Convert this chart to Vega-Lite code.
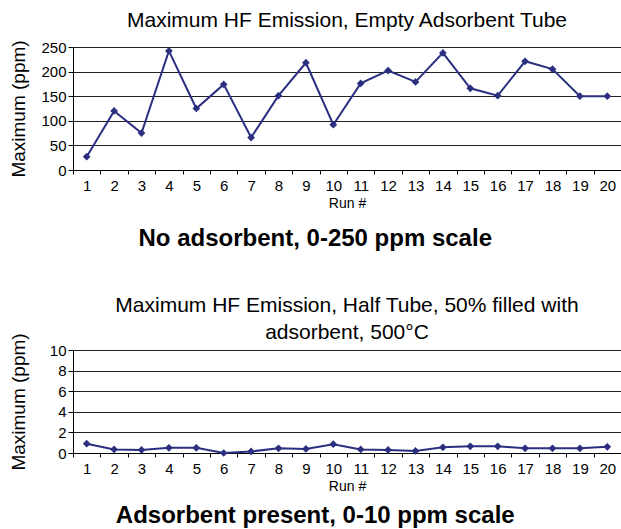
{
  "$schema": "https://vega.github.io/schema/vega-lite/v6.json",
  "padding": {"left": 9, "top": 9, "right": 0, "bottom": 0},
  "background": "white",
  "config": {
    "font": "Liberation Sans",
    "view": {"stroke": null},
    "title": {"font": "Liberation Sans", "fontWeight": "normal", "fontSize": 21, "color": "#000"},
    "axis": {
      "labelFont": "Liberation Sans", "titleFont": "Liberation Sans",
      "labelColor": "#000", "titleColor": "#000",
      "domainColor": "#000", "tickColor": "#000", "gridColor": "#222",
      "titleFontWeight": "normal"
    },
    "concat": {"spacing": 43}
  },
  "datasets": {
    "empty": [
      {"run": 1, "ppm": 27}, {"run": 2, "ppm": 120}, {"run": 3, "ppm": 75}, {"run": 4, "ppm": 242},
      {"run": 5, "ppm": 125}, {"run": 6, "ppm": 174}, {"run": 7, "ppm": 66}, {"run": 8, "ppm": 151},
      {"run": 9, "ppm": 218}, {"run": 10, "ppm": 92}, {"run": 11, "ppm": 176}, {"run": 12, "ppm": 202},
      {"run": 13, "ppm": 179}, {"run": 14, "ppm": 238}, {"run": 15, "ppm": 166}, {"run": 16, "ppm": 151},
      {"run": 17, "ppm": 221}, {"run": 18, "ppm": 205}, {"run": 19, "ppm": 150}, {"run": 20, "ppm": 150}
    ],
    "half": [
      {"run": 1, "ppm": 0.9}, {"run": 2, "ppm": 0.35}, {"run": 3, "ppm": 0.3}, {"run": 4, "ppm": 0.5},
      {"run": 5, "ppm": 0.5}, {"run": 6, "ppm": 0.0}, {"run": 7, "ppm": 0.15}, {"run": 8, "ppm": 0.45},
      {"run": 9, "ppm": 0.4}, {"run": 10, "ppm": 0.85}, {"run": 11, "ppm": 0.35}, {"run": 12, "ppm": 0.3},
      {"run": 13, "ppm": 0.2}, {"run": 14, "ppm": 0.55}, {"run": 15, "ppm": 0.65}, {"run": 16, "ppm": 0.65},
      {"run": 17, "ppm": 0.45}, {"run": 18, "ppm": 0.45}, {"run": 19, "ppm": 0.45}, {"run": 20, "ppm": 0.6}
    ]
  },
  "vconcat": [
    {
      "title": {"text": "No adsorbent, 0-250 ppm scale", "orient": "bottom", "fontSize": 24, "fontWeight": "bold", "anchor": "middle", "offset": 17},
      "vconcat": [
        {
          "title": {"text": "Maximum HF Emission, Empty Adsorbent Tube", "offset": 9},
          "width": 548,
          "height": 123,
          "data": {"name": "empty"},
          "mark": {"type": "line", "color": "#2b2f80", "strokeWidth": 2, "point": {"shape": "diamond", "filled": true, "size": 60, "color": "#2b2f80"}},
          "encoding": {
            "x": {"field": "run", "type": "ordinal", "bandPosition": 0.5, "scale": {"type": "band", "paddingInner": 0, "paddingOuter": 0},
              "axis": {"title": "Run #", "titleFontSize": 14, "labelFontSize": 15, "labelAngle": 0, "tickBand": "extent", "tickSize": 4, "labelPadding": 4, "titlePadding": 3, "grid": false}},
            "y": {"field": "ppm", "type": "quantitative", "scale": {"domain": [0, 250], "nice": false},
              "axis": {"title": "Maximum (ppm)", "titleFontSize": 19, "labelFontSize": 15, "values": [0, 50, 100, 150, 200, 250], "tickSize": 5, "labelPadding": 2, "titlePadding": 5, "minExtent": 40, "grid": true}}
          }
        }
      ]
    },
    {
      "title": {"text": "Adsorbent present, 0-10 ppm scale", "orient": "bottom", "fontSize": 24, "fontWeight": "bold", "anchor": "middle", "offset": 11},
      "vconcat": [
        {
          "title": {"text": ["Maximum HF Emission, Half Tube, 50% filled with", "adsorbent, 500°C"], "offset": -10, "lineHeight": 27},
          "width": 548,
          "height": 103,
          "data": {"name": "half"},
          "mark": {"type": "line", "color": "#2b2f80", "strokeWidth": 2, "point": {"shape": "diamond", "filled": true, "size": 60, "color": "#2b2f80"}},
          "encoding": {
            "x": {"field": "run", "type": "ordinal", "bandPosition": 0.5, "scale": {"type": "band", "paddingInner": 0, "paddingOuter": 0},
              "axis": {"title": "Run #", "titleFontSize": 14, "labelFontSize": 15, "labelAngle": 0, "tickBand": "extent", "tickSize": 4, "labelPadding": 4, "titlePadding": 3, "grid": false}},
            "y": {"field": "ppm", "type": "quantitative", "scale": {"domain": [0, 10], "nice": false},
              "axis": {"title": "Maximum (ppm)", "titleFontSize": 19, "labelFontSize": 15, "values": [0, 2, 4, 6, 8, 10], "tickSize": 5, "labelPadding": 2, "titlePadding": 5, "minExtent": 40, "grid": true}}
          }
        }
      ]
    }
  ]
}
